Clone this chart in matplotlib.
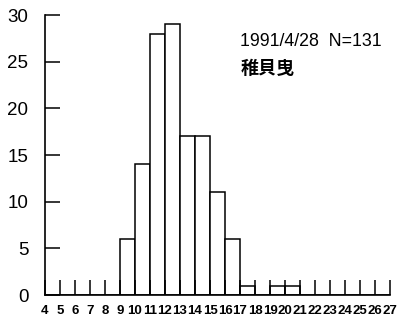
import matplotlib
matplotlib.use('Agg')
import matplotlib.pyplot as plt

# shell length classes (left edge of each bin) and counts
bin_edges = list(range(4, 28))
counts = [0, 0, 0, 0, 0, 6, 14, 28, 29, 17, 17, 11, 6, 1, 0, 1, 1,
          0, 0, 0, 0, 0, 0]
y_ticks = [0, 5, 10, 15, 20, 25, 30]
title_line1 = '1991/4/28  N=131'
title_line2 = '稚貝曳'

plt.rcParams['font.family'] = ['Liberation Sans', 'Noto Sans CJK JP', 'DejaVu Sans']

fig = plt.figure(figsize=(3.98, 3.29), dpi=100)
ax = fig.add_axes([0.113, 0.103, 0.867, 0.851])

ax.bar(bin_edges[:-1], counts, width=1, align='edge',
       color='white', edgecolor='black', linewidth=1.1)

ax.set_xlim(bin_edges[0], bin_edges[-1])
ax.set_ylim(0, 30)
ax.set_xticks(bin_edges)
ax.set_xticklabels([str(v) for v in bin_edges], fontsize=9.5, fontweight='bold')
ax.set_yticks(y_ticks)
ax.set_yticklabels([str(v) for v in y_ticks], fontsize=13.5)

ax.tick_params(axis='both', direction='in', length=11, width=1.1, color='black')
ax.tick_params(axis='x', pad=7)
ax.tick_params(axis='y', pad=12)

for side in ['top', 'right']:
    ax.spines[side].set_visible(False)
for side in ['left', 'bottom']:
    ax.spines[side].set_linewidth(1.2)

ax.text(0.566, 0.905, title_line1, transform=ax.transAxes, fontsize=12.8,
        va='center', ha='left')
ax.text(0.566, 0.81, title_line2, transform=ax.transAxes, fontsize=13,
        fontweight='bold', va='center', ha='left',
        family=['Noto Sans CJK JP', 'DejaVu Sans'])

fig.savefig('out.png', dpi=100)
